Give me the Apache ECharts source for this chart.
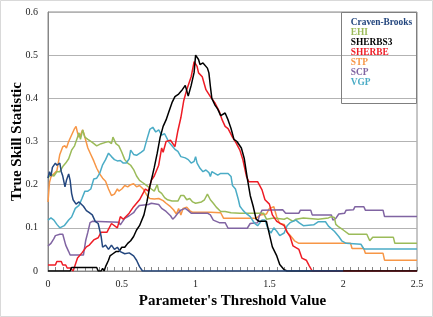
<!DOCTYPE html>
<html>
<head>
<meta charset="utf-8">
<script src="https://cdn.jsdelivr.net/npm/echarts@6/dist/echarts.min.js"></script>
<style>
  html, body { margin: 0; padding: 0; background: #fff; }
  #main { width: 433px; height: 317px; }
</style>
</head>
<body>
<div id="main"></div>
<script>
    // values, [threshold, TSS]
    var cravenBrooks = [[0,0.215],[0.01,0.23],[0.02,0.22],[0.03,0.24],[0.05,0.25],[0.06,0.245],[0.08,0.25],[0.09,0.23],[0.1,0.22],[0.115,0.195],[0.125,0.21],[0.14,0.225],[0.15,0.21],[0.16,0.18],[0.17,0.165],[0.19,0.155],[0.21,0.16],[0.24,0.15],[0.26,0.14],[0.28,0.135],[0.3,0.13],[0.32,0.115],[0.34,0.11],[0.36,0.08],[0.37,0.055],[0.39,0.06],[0.41,0.05],[0.43,0.06],[0.45,0.05],[0.47,0.055],[0.49,0.045],[0.52,0.04],[0.55,0.042],[0.58,0.035],[0.6,0.025],[0.62,0.01],[0.64,0],[2.0,0]];
    var ehi = [[0,0.215],[0.02,0.225],[0.04,0.22],[0.06,0.23],[0.08,0.23],[0.1,0.242],[0.12,0.25],[0.14,0.26],[0.16,0.28],[0.18,0.29],[0.2,0.31],[0.21,0.32],[0.22,0.305],[0.235,0.327],[0.25,0.31],[0.27,0.305],[0.3,0.298],[0.33,0.29],[0.36,0.295],[0.39,0.298],[0.41,0.3],[0.43,0.295],[0.44,0.31],[0.46,0.295],[0.48,0.29],[0.5,0.275],[0.52,0.258],[0.54,0.25],[0.56,0.245],[0.58,0.235],[0.6,0.22],[0.62,0.21],[0.64,0.205],[0.66,0.2],[0.68,0.195],[0.7,0.19],[0.72,0.185],[0.74,0.2],[0.75,0.185],[0.77,0.18],[0.79,0.17],[0.81,0.165],[0.84,0.162],[0.88,0.162],[0.9,0.175],[0.92,0.175],[0.94,0.165],[0.96,0.168],[0.98,0.16],[1.0,0.157],[1.04,0.16],[1.06,0.165],[1.08,0.178],[1.1,0.165],[1.12,0.157],[1.14,0.148],[1.17,0.138],[1.2,0.138],[1.24,0.135],[1.3,0.134],[1.46,0.134],[1.48,0.12],[1.53,0.123],[1.6,0.12],[1.62,0.123],[1.66,0.115],[1.68,0.12],[1.73,0.123],[1.83,0.12],[1.9,0.123],[1.92,0.126],[1.94,0.124],[1.95,0.108],[1.97,0.102],[2.0,0.095],[2.04,0.085],[2.16,0.085],[2.18,0.07],[2.2,0.078],[2.34,0.078],[2.35,0.064],[2.5,0.064]];
    var sherbs3 = [[0,0],[0.15,0],[0.16,0.008],[0.33,0.008],[0.34,0],[0.36,0],[0.37,0.006],[0.38,0],[0.39,0.01],[0.41,0.025],[0.42,0.035],[0.44,0.04],[0.46,0.045],[0.48,0.045],[0.5,0.055],[0.52,0.055],[0.54,0.064],[0.56,0.07],[0.58,0.08],[0.6,0.095],[0.62,0.105],[0.65,0.13],[0.67,0.16],[0.69,0.196],[0.71,0.225],[0.72,0.24],[0.74,0.273],[0.76,0.31],[0.78,0.335],[0.8,0.35],[0.82,0.37],[0.84,0.39],[0.86,0.404],[0.885,0.41],[0.91,0.42],[0.93,0.43],[0.95,0.405],[0.97,0.43],[0.99,0.46],[1.0,0.5],[1.02,0.49],[1.03,0.478],[1.05,0.482],[1.08,0.47],[1.09,0.459],[1.1,0.428],[1.11,0.4],[1.13,0.385],[1.15,0.375],[1.17,0.36],[1.2,0.366],[1.22,0.35],[1.24,0.33],[1.26,0.305],[1.28,0.3],[1.31,0.285],[1.33,0.26],[1.35,0.215],[1.37,0.175],[1.39,0.15],[1.41,0.12],[1.43,0.115],[1.48,0.115],[1.49,0.1],[1.5,0.085],[1.52,0.056],[1.55,0.035],[1.57,0.015],[1.6,0.003],[1.62,0],[2.5,0]];
    var sherbe = [[0,0.014],[0.05,0.014],[0.06,0.022],[0.09,0.022],[0.1,0.014],[0.12,0.014],[0.13,0.007],[0.15,0.007],[0.17,0],[0.18,0.01],[0.2,0.03],[0.23,0.042],[0.26,0.056],[0.28,0.06],[0.31,0.072],[0.34,0.077],[0.36,0.09],[0.4,0.09],[0.43,0.11],[0.47,0.1],[0.49,0.126],[0.51,0.12],[0.55,0.134],[0.58,0.149],[0.62,0.165],[0.66,0.19],[0.68,0.185],[0.7,0.21],[0.72,0.22],[0.75,0.245],[0.77,0.285],[0.78,0.275],[0.8,0.3],[0.83,0.303],[0.84,0.3],[0.86,0.288],[0.88,0.325],[0.9,0.355],[0.92,0.395],[0.94,0.42],[0.95,0.42],[0.97,0.45],[0.99,0.485],[1.01,0.474],[1.02,0.459],[1.045,0.45],[1.07,0.42],[1.1,0.404],[1.13,0.39],[1.16,0.37],[1.18,0.35],[1.2,0.335],[1.22,0.33],[1.25,0.31],[1.275,0.296],[1.3,0.28],[1.32,0.258],[1.345,0.219],[1.36,0.207],[1.42,0.207],[1.45,0.188],[1.47,0.165],[1.5,0.155],[1.52,0.13],[1.55,0.115],[1.6,0.105],[1.62,0.09],[1.64,0.08],[1.66,0.058],[1.7,0.05],[1.72,0.03],[1.75,0.025],[1.77,0.012],[1.79,0],[2.5,0]];
    var stp = [[0,0.16],[0.01,0.205],[0.02,0.218],[0.04,0.225],[0.06,0.232],[0.08,0.27],[0.1,0.288],[0.115,0.29],[0.125,0.285],[0.14,0.3],[0.16,0.315],[0.18,0.33],[0.19,0.335],[0.2,0.32],[0.21,0.31],[0.22,0.315],[0.235,0.327],[0.25,0.31],[0.27,0.285],[0.29,0.27],[0.31,0.255],[0.33,0.238],[0.35,0.225],[0.37,0.215],[0.39,0.208],[0.41,0.19],[0.43,0.175],[0.45,0.178],[0.47,0.19],[0.48,0.185],[0.5,0.19],[0.52,0.198],[0.54,0.195],[0.56,0.2],[0.58,0.202],[0.6,0.195],[0.62,0.198],[0.645,0.19],[0.67,0.175],[0.69,0.168],[0.72,0.167],[0.75,0.168],[0.78,0.163],[0.8,0.157],[0.83,0.149],[0.85,0.142],[0.87,0.132],[0.885,0.145],[0.9,0.13],[0.915,0.145],[0.94,0.148],[0.96,0.14],[0.98,0.136],[1.03,0.136],[1.1,0.136],[1.17,0.135],[1.19,0.122],[1.41,0.122],[1.44,0.13],[1.48,0.132],[1.5,0.145],[1.53,0.149],[1.55,0.125],[1.57,0.11],[1.6,0.108],[1.62,0.09],[1.64,0.083],[1.67,0.07],[1.7,0.064],[2.05,0.064],[2.06,0.052],[2.14,0.052],[2.15,0.041],[2.27,0.041],[2.28,0.025],[2.5,0.025]];
    var scp = [[0,0.058],[0.02,0.064],[0.04,0.075],[0.05,0.082],[0.08,0.085],[0.1,0.085],[0.12,0.06],[0.14,0.045],[0.15,0.037],[0.24,0.037],[0.255,0.07],[0.27,0.09],[0.285,0.112],[0.3,0.115],[0.48,0.113],[0.49,0.107],[0.5,0.112],[0.52,0.122],[0.55,0.128],[0.58,0.135],[0.6,0.145],[0.62,0.152],[0.68,0.154],[0.7,0.157],[0.75,0.154],[0.77,0.145],[0.8,0.138],[0.83,0.128],[0.845,0.12],[0.86,0.125],[0.88,0.134],[0.9,0.141],[0.93,0.145],[0.95,0.14],[0.97,0.134],[1.08,0.134],[1.1,0.13],[1.12,0.118],[1.16,0.112],[1.2,0.112],[1.22,0.099],[1.35,0.099],[1.37,0.11],[1.42,0.112],[1.43,0.126],[1.45,0.141],[1.59,0.142],[1.61,0.134],[1.7,0.134],[1.71,0.141],[1.78,0.141],[1.79,0.13],[1.92,0.13],[1.93,0.118],[1.95,0.122],[1.97,0.132],[2.01,0.134],[2.02,0.141],[2.07,0.142],[2.08,0.149],[2.14,0.149],[2.15,0.141],[2.27,0.141],[2.28,0.126],[2.5,0.126]];
    var vgp = [[0,0.118],[0.02,0.123],[0.04,0.118],[0.06,0.108],[0.08,0.1],[0.09,0.096],[0.11,0.105],[0.14,0.118],[0.16,0.125],[0.185,0.145],[0.21,0.152],[0.23,0.168],[0.25,0.185],[0.27,0.185],[0.29,0.19],[0.31,0.213],[0.33,0.215],[0.35,0.226],[0.37,0.246],[0.39,0.258],[0.41,0.273],[0.43,0.265],[0.45,0.258],[0.47,0.255],[0.49,0.256],[0.51,0.25],[0.53,0.25],[0.55,0.26],[0.56,0.28],[0.58,0.27],[0.6,0.268],[0.63,0.275],[0.65,0.28],[0.67,0.305],[0.69,0.328],[0.71,0.333],[0.73,0.322],[0.75,0.327],[0.77,0.315],[0.79,0.318],[0.82,0.298],[0.84,0.29],[0.86,0.282],[0.88,0.277],[0.9,0.265],[0.93,0.262],[0.95,0.258],[0.97,0.25],[0.99,0.254],[1.0,0.265],[1.01,0.25],[1.03,0.238],[1.05,0.23],[1.07,0.234],[1.09,0.228],[1.1,0.219],[1.11,0.23],[1.13,0.226],[1.15,0.222],[1.17,0.226],[1.22,0.226],[1.24,0.219],[1.25,0.198],[1.27,0.19],[1.29,0.165],[1.3,0.15],[1.32,0.141],[1.34,0.134],[1.37,0.126],[1.4,0.11],[1.42,0.105],[1.45,0.118],[1.47,0.118],[1.49,0.098],[1.51,0.088],[1.53,0.1],[1.55,0.092],[1.57,0.082],[1.6,0.088],[1.62,0.105],[1.64,0.112],[1.68,0.118],[1.7,0.112],[1.73,0.105],[1.8,0.107],[1.83,0.114],[1.88,0.114],[1.9,0.104],[1.94,0.092],[1.97,0.08],[1.99,0.07],[2.02,0.064],[2.12,0.062],[2.14,0.051],[2.5,0.051]];

    var legendNames = ['Craven-Brooks', 'EHI', 'SHERBS3', 'SHERBE', 'STP', 'SCP', 'VGP'];
    var colors = {
        'Craven-Brooks': '#23467e',
        'EHI': '#9bbb59',
        'SHERBS3': '#000000',
        'SHERBE': '#ee1c25',
        'STP': '#f79646',
        'SCP': '#8064a2',
        'VGP': '#4bacc6'
    };
    var serif = '"Liberation Serif", "Times New Roman", serif';

    var chartDom = document.getElementById('main');
    var myChart = echarts.init(chartDom);

    function line(name, data) {
        return {
            name: name,
            type: 'line',
            data: data,
            showSymbol: false,
            symbol: 'none',
            animation: false,
            color: colors[name],
            lineStyle: { width: 1.5, color: colors[name] }
        };
    }

    var option = {
        backgroundColor: '#fff',
        graphic: [{
            type: 'rect',
            shape: { x: 0.5, y: 0.5, width: 432, height: 316 },
            style: { fill: 'none', stroke: '#d9d9d9', lineWidth: 1 },
            silent: true
        }, {
            // legend frame
            type: 'rect',
            z: 100,
            shape: { x: 341.5, y: 12.5, width: 75, height: 91 },
            style: { fill: 'none', stroke: '#7f7f7f', lineWidth: 1 },
            silent: true
        }],
        grid: {
            left: 48, right: 16, top: 12, bottom: 46,
            outerBoundsMode: 'none',
            containLabel: false,
            show: true, borderColor: '#8c8c8c', borderWidth: 1
        },
        legend: {
            orient: 'vertical',
            left: 341, top: 14.5,
            padding: [3, 0, 0, 0],
            itemWidth: 0, itemHeight: 12, itemGap: 0.4,
            itemStyle: { opacity: 0 },
            lineStyle: { opacity: 0 },
            selectedMode: false,
            data: legendNames.map(function (n) {
                return { name: n, textStyle: { color: colors[n] } };
            }),
            textStyle: { fontFamily: serif, fontWeight: 'bold', fontSize: 9.4 }
        },
        xAxis: {
            type: 'value',
            min: 0, max: 2.5, interval: 0.05,
            name: "Parameter's Threshold Value",
            nameLocation: 'middle', nameGap: 22,
            nameTextStyle: { fontFamily: serif, fontWeight: 'bold', fontSize: 15, color: '#000' },
            axisLine: { show: true, lineStyle: { color: '#868686' } },
            axisTick: { show: true, inside: true, length: 4, lineStyle: { color: '#868686' } },
            splitLine: { show: false },
            axisLabel: {
                fontFamily: serif, fontSize: 10, color: '#222', margin: 8,
                formatter: function (v) {
                    var k = Math.round(v / 0.5);
                    return Math.abs(v - k * 0.5) < 1e-6 ? String(k * 0.5) : '';
                }
            }
        },
        yAxis: {
            type: 'value',
            min: 0, max: 0.6, interval: 0.1,
            name: 'True Skill Statistic',
            nameLocation: 'middle', nameGap: 23,
            nameMoveOverlap: false,
            nameTextStyle: { fontFamily: serif, fontWeight: 'bold', fontSize: 15, color: '#000' },
            axisLine: { show: true, lineStyle: { color: '#868686' } },
            axisTick: { show: false },
            splitLine: { lineStyle: { color: '#b3b3b3' } },
            axisLabel: { fontFamily: serif, fontSize: 10, color: '#222', margin: 10 }
        },
        series: [
            line('STP', stp),
            line('SCP', scp),
            line('EHI', ehi),
            line('VGP', vgp),
            line('SHERBE', sherbe),
            line('SHERBS3', sherbs3),
            line('Craven-Brooks', cravenBrooks)
        ]
    };

    myChart.setOption(option);
</script>
</body>
</html>
